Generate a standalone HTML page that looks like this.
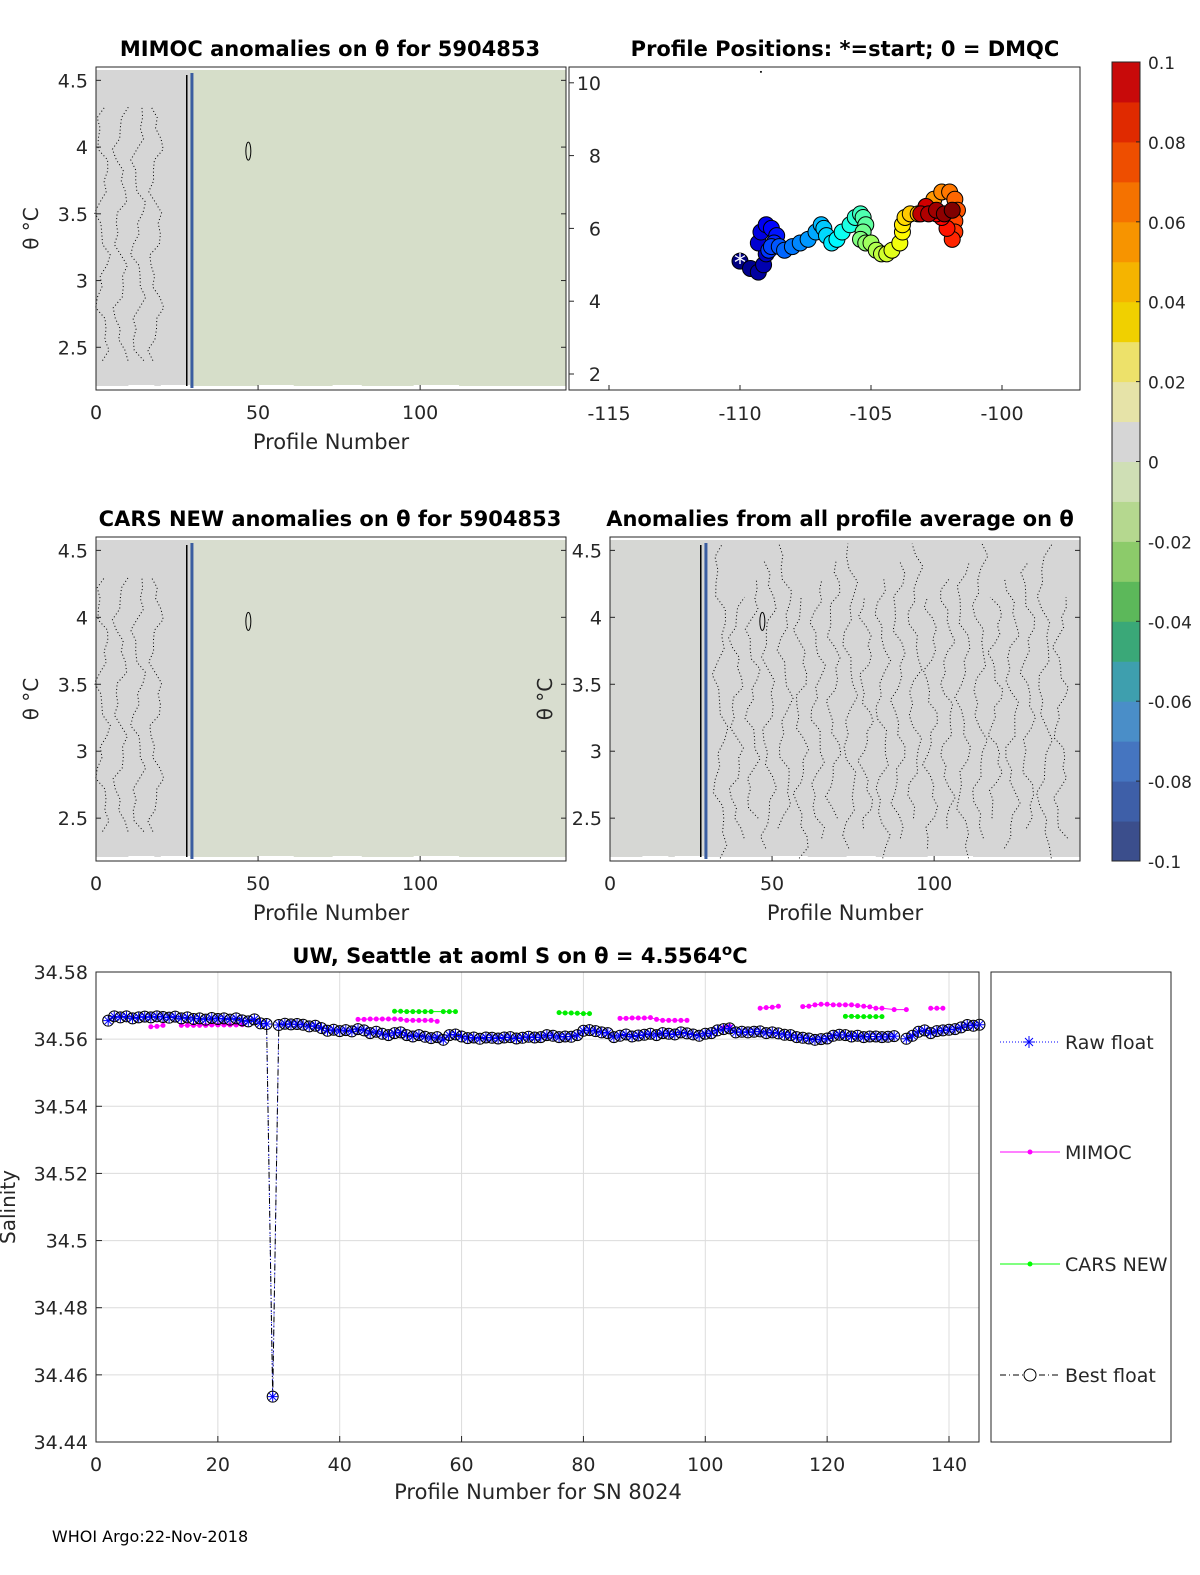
<!DOCTYPE html>
<html><head><meta charset="utf-8"><style>
html,body{margin:0;padding:0;background:#fff;}
svg{display:block;font-family:"DejaVu Sans","Liberation Sans",sans-serif;}
</style></head><body>
<svg id="root" width="1200" height="1575" viewBox="0 0 1200 1575" xmlns="http://www.w3.org/2000/svg"></svg>
<script>
// ---------- bottom chart data ----------
const bestProfiles=[];for(let p=2;p<=145;p++)bestProfiles.push(p);
const bestValues=[34.5655,34.5668,34.5665,34.5668,34.5662,34.5665,34.5667,34.5665,34.5668,34.5666,34.5664,34.5667,34.5662,34.5665,34.566,34.5662,34.5658,34.5663,34.566,34.5662,34.5658,34.5662,34.5656,34.5653,34.5659,34.5647,34.5645,34.4535,34.5642,34.5646,34.5644,34.5645,34.5643,34.5638,34.564,34.5633,34.5625,34.5628,34.5624,34.5627,34.5623,34.563,34.5626,34.5618,34.5622,34.5616,34.5612,34.5618,34.562,34.5612,34.5608,34.5612,34.5607,34.5603,34.5606,34.5598,34.5612,34.5614,34.5608,34.5603,34.5605,34.5601,34.5605,34.5604,34.5602,34.5605,34.5606,34.5602,34.5604,34.5607,34.5605,34.5606,34.5612,34.561,34.5606,34.5608,34.5607,34.5612,34.5625,34.5627,34.5624,34.562,34.5618,34.5606,34.561,34.5614,34.5608,34.5611,34.5613,34.5616,34.5612,34.5618,34.5616,34.5614,34.562,34.5617,34.5614,34.561,34.5616,34.5618,34.5626,34.563,34.5632,34.562,34.5622,34.562,34.5622,34.5623,34.5618,34.562,34.5617,34.5613,34.5612,34.5606,34.5604,34.5602,34.5598,34.56,34.5602,34.561,34.5613,34.5612,34.5608,34.561,34.5606,34.5608,34.5608,34.5606,34.5607,34.5609,null,34.5601,34.561,34.5622,34.5626,34.5618,34.5624,34.5626,34.5628,34.563,34.5635,34.5642,34.564,34.5643];
const mimocProfiles=[9,10,11,null,14,15,16,17,18,19,20,21,22,23,24,null,43,44,45,46,47,48,49,50,51,52,53,54,55,56,null,86,87,88,89,90,91,92,93,94,95,96,97,null,103,104,null,109,110,111,112,null,116,117,118,119,120,121,122,123,124,125,126,127,128,129,131,133,null,137,138,139];
const mimocValues=[34.5637,34.5638,34.5641,null,34.5641,34.5641,34.5641,34.5641,34.5641,34.5642,34.5642,34.5642,34.5642,34.5642,34.5643,null,34.5659,34.5659,34.5660,34.5660,34.5660,34.5660,34.5660,34.5659,34.5656,34.5656,34.5656,34.5656,34.5656,34.5653,null,34.5662,34.5662,34.5663,34.5663,34.5663,34.5664,34.5659,34.5656,34.5656,34.5656,34.5656,34.5656,null,34.5634,34.5638,null,34.5692,34.5694,34.5695,34.5698,null,34.5697,34.5698,34.5702,34.5704,34.5704,34.5702,34.5702,34.5702,34.5702,34.57,34.5698,34.5696,34.5692,34.5692,34.5688,34.5688,null,34.5692,34.5692,34.5692];
const carsProfiles=[49,50,51,52,53,54,55,57,58,59,null,76,77,78,79,80,81,null,123,124,125,126,127,128,129];
const carsValues=[34.5683,34.5683,34.5682,34.5682,34.5682,34.5682,34.5682,34.5682,34.5682,34.5682,null,34.5679,34.5678,34.5678,34.5677,34.5676,34.5676,null,34.5668,34.5668,34.5667,34.5667,34.5667,34.5667,34.5667];
const salTicks=[34.44,34.46,34.48,34.5,34.52,34.54,34.56,34.58];
const salTickLabels=["34.44","34.46","34.48","34.5","34.52","34.54","34.56","34.58"];
const profTicks=[0,20,40,60,80,100,120,140];
// ---------- map data ----------
const mapLon=[-110,-109.6,-109.3,-109.1,-109.0,-109.3,-109.2,-109.0,-108.8,-108.6,-108.7,-108.9,-108.8,-108.5,-108.3,-108.0,-107.7,-107.4,-107.1,-106.9,-106.8,-106.7,-106.5,-106.3,-106.1,-105.8,-105.6,-105.4,-105.3,-105.2,-105.3,-105.4,-105.2,-105.0,-104.8,-104.6,-104.4,-104.2,-103.9,-103.8,-103.8,-103.7,-103.5,-103.2,-102.9,-102.6,-102.3,-102.0,-101.8,-101.7,-101.8,-101.8,-101.9,-102.1,-102.3,-102.5,-102.7,-102.9,-103.1,-102.8,-102.5,-102.2,-101.9];
const mapLat=[5.1,4.9,4.8,5.0,5.3,5.6,5.9,6.1,6.0,5.8,5.6,5.4,5.5,5.5,5.4,5.5,5.6,5.7,5.9,6.1,6.0,5.8,5.6,5.7,5.9,6.1,6.3,6.4,6.3,6.1,5.9,5.7,5.6,5.6,5.4,5.3,5.3,5.4,5.6,5.9,6.1,6.3,6.4,6.4,6.6,6.8,7.0,7.0,6.8,6.5,6.2,5.9,5.7,6.0,6.3,6.4,6.5,6.6,6.4,6.4,6.5,6.4,6.5];
const lonTicks=[-115,-110,-105,-100];
const latTicks=[2,4,6,8,10];
const cbTicks=[-0.1,-0.08,-0.06,-0.04,-0.02,0,0.02,0.04,0.06,0.08,0.1];
const cbTickLabels=["-0.1","-0.08","-0.06","-0.04","-0.02","0","0.02","0.04","0.06","0.08","0.1"];
const thetaTicks=[2.5,3,3.5,4,4.5];
const smallProfTicks=[0,50,100];

const NS="http://www.w3.org/2000/svg";
const root=document.getElementById('root');
function mk(tag,attrs,parent,name,inter){const e=document.createElementNS(NS,tag);for(const k in attrs)e.setAttribute(k,attrs[k]);


(parent||root).appendChild(e);return e;}
function txt(s,x,y,size,anchor,parent,name,extra){const t=mk('text',Object.assign({x:x,y:y,'font-size':size,'text-anchor':anchor||'middle',fill:'#262626'},extra||{}),parent,name,false);t.textContent=s;return t;}
function jet(v){v=Math.max(0,Math.min(1,v));const r=Math.max(0,Math.min(1,1.5-Math.abs(4*v-3))),g=Math.max(0,Math.min(1,1.5-Math.abs(4*v-2))),b=Math.max(0,Math.min(1,1.5-Math.abs(4*v-1)));return `rgb(${r*255|0},${g*255|0},${b*255|0})`;}

function contourPanel(x0,y0,x1,y1,title,bgLeft,bgRight,name,dense,titleX){
  const g=mk('g',{},root,name,false);
  const sx=p=>x0+(p/145)*(x1-x0);
  const sy=t=>y0+(4.6-t)/(4.6-2.18)*(y1-y0);
  mk('rect',{x:x0,y:y0,width:x1-x0,height:y1-y0,fill:'#fff'},g,'plot-area',false);
  mk('rect',{x:x0,y:y0+3,width:sx(29)-x0,height:y1-y0-7,fill:bgLeft},g,'anomaly-field-left',false);
  mk('rect',{x:sx(29),y:y0+3,width:x1-sx(29),height:y1-y0-7,fill:bgRight},g,'anomaly-field-right',false);
  [[10,18],[20,29],[50,61],[73,82],[98,112]].forEach(a=>mk('rect',{x:sx(a[0]),y:y1-5,width:sx(a[1])-sx(a[0]),height:5,fill:'#fff'},g,'data-gap',false));
  let d='';
  const n=dense?22:4;
  for(let i=0;i<n;i++){
    const base=dense?34+i*5:2+i*5.5;
    let pts=[];
    const t0=dense?2.2+0.3*((i*7)%5)/4:2.4, t1=dense?4.55-0.4*((i*3)%4)/3:4.3;
    const K=24;
    for(let k=0;k<=K;k++){const t=t0+(t1-t0)*k/K;const p=base+1.6*Math.sin(k*0.8+i*1.3)+1.0*Math.sin(k*2.1+i);pts.push(sx(p).toFixed(1)+','+sy(t).toFixed(1));}
    d+='M'+pts.join('L');
  }
  mk('path',{d:d,fill:'none',stroke:'#000','stroke-width':1,'stroke-dasharray':'1,2.5'},g,'contour-lines',false);
  mk('ellipse',{cx:sx(47),cy:sy(3.97),rx:2.5,ry:9,fill:'none',stroke:'#000','stroke-width':1},g,'contour-ellipse',false);
  mk('line',{x1:sx(28),y1:y0+8,x2:sx(28),y2:y1-4,stroke:'#000','stroke-width':1.5},g,'vertical-line-28',false);
  mk('line',{x1:sx(29.6),y1:y0+6,x2:sx(29.6),y2:y1-2,stroke:'#3a5da0','stroke-width':3},g,'vertical-line-29',false);
  mk('rect',{x:x0,y:y0,width:x1-x0,height:y1-y0,fill:'none',stroke:'#262626','stroke-width':1},g,'axes-box',false);
  thetaTicks.forEach(t=>{mk('line',{x1:x0,y1:sy(t),x2:x0+5,y2:sy(t),stroke:'#262626'},g,'y-tick',false);mk('line',{x1:x1,y1:sy(t),x2:x1-5,y2:sy(t),stroke:'#262626'},g,'y-tick',false);
    txt(String(t),x0-8,sy(t)+7,19,'end',g,'y-tick-label');});
  smallProfTicks.forEach(p=>{mk('line',{x1:sx(p),y1:y1,x2:sx(p),y2:y1-5,stroke:'#262626'},g,'x-tick',false);txt(String(p),sx(p),y1+29,19,'middle',g,'x-tick-label');});
  txt('Profile Number',(x0+x1)/2,y1+59,21,'middle',g,'x-axis-title');
  txt('θ °C',0,0,20,'middle',g,'y-axis-title',{transform:`translate(${x0-58},${(y0+y1)/2}) rotate(-90)`});
  txt(title,titleX||(x0+x1)/2,y0-11,21,'middle',g,'panel-title',{'font-weight':'bold',fill:'#000'});
  return g;
}
contourPanel(96,67,566,390,'MIMOC anomalies on θ  for 5904853','#d6d6d6','#d6dec9','mimoc-anomaly-panel',false,330);
contourPanel(96,537,566,861,'CARS NEW anomalies on θ for 5904853','#d6d6d6','#d8ddcf','cars-anomaly-panel',false,330);
contourPanel(610,537,1080,861,'Anomalies from all profile average on θ','#d6d7d4','#d6d6d6','profile-average-anomaly-panel',true,840);

(function(){
  const g=mk('g',{},root,'profile-positions-panel',false);
  const x0=569,x1=1080,y0=67,y1=390;
  const sx=l=>609+(l+115)*26.2, sy=a=>374-(a-2)*36.4;
  mk('rect',{x:x0,y:y0,width:x1-x0,height:y1-y0,fill:'#fff',stroke:'#262626'},g,'axes-box',false);
  lonTicks.forEach(l=>{mk('line',{x1:sx(l),y1:y1,x2:sx(l),y2:y1-5,stroke:'#262626'},g,'x-tick',false);txt(String(l),sx(l),y1+30,19,'middle',g,'x-tick-label');});
  latTicks.forEach(a=>{mk('line',{x1:x0,y1:sy(a),x2:x0+5,y2:sy(a),stroke:'#262626'},g,'y-tick',false);txt(String(a),x0+32,sy(a)+7,19,'end',g,'y-tick-label');});
  const n=mapLon.length;
  for(let i=0;i<n;i++){mk('circle',{cx:sx(mapLon[i]),cy:sy(mapLat[i]),r:8,fill:jet(i/(n-1)),stroke:'#000','stroke-width':1},g,'profile-position',false);}
  txt('*',sx(mapLon[0]),sy(mapLat[0])+10,24,'middle',g,'start-marker',{fill:'#fff'});
  mk('circle',{cx:sx(-109.2),cy:sy(10.3),r:1,fill:'#000'},g,'outlier-position',false);
  txt('Profile Positions: *=start; 0 = DMQC',845,56,21,'middle',g,'panel-title',{'font-weight':'bold',fill:'#000'});
})();

(function(){
  const g=mk('g',{},root,'colorbar',false);
  const x0=1112,x1=1140,y0=62,y1=861;
  const sy=v=>y0+(0.1-v)/0.2*(y1-y0);
  const steps=[['#3b4e8c',-0.1],['#3e5fa8',-0.09],['#4575c0',-0.08],['#4a8ec8',-0.07],['#3e9fae',-0.06],['#3aa878',-0.05],['#5cb85a',-0.04],['#8ccb6a',-0.03],['#b5d88f',-0.02],['#cfdfb5',-0.01],['#d6d6d6',0],['#e6e3a8',0.01],['#ede16a',0.02],['#f0d000',0.03],['#f5b400',0.04],['#f79400',0.05],['#f57200',0.06],['#ee4e00',0.07],['#e02a00',0.08],['#c80a0a',0.09]];
  steps.forEach(s=>mk('rect',{x:x0,y:sy(s[1]+0.01),width:x1-x0,height:(y1-y0)/20+0.5,fill:s[0]},g,'colorbar-segment',false));
  mk('rect',{x:x0,y:y0,width:x1-x0,height:y1-y0,fill:'none',stroke:'#262626'},g,'colorbar-box',false);
  cbTicks.forEach((v,i)=>{mk('line',{x1:x1,y1:sy(v),x2:x1-4,y2:sy(v),stroke:'#262626'},g,'colorbar-tick',false);txt(cbTickLabels[i],x1+8,sy(v)+7,17,'start',g,'colorbar-tick-label');});
})();

(function(){
  const g=mk('g',{},root,'salinity-chart',false);
  const x0=96,x1=979,y0=972,y1=1442;
  const sx=p=>x0+p*(949-96)/140, sy=v=>y0+(34.58-v)*(y1-y0)/0.14;
  mk('rect',{x:x0,y:y0,width:x1-x0,height:y1-y0,fill:'#fff'},g,'plot-area',false);
  profTicks.forEach(p=>{if(p>0)mk('line',{x1:sx(p),y1:y0,x2:sx(p),y2:y1,stroke:'#dcdcdc'},g,'x-grid-line',false);});
  salTicks.forEach(v=>mk('line',{x1:x0,y1:sy(v),x2:x1,y2:sy(v),stroke:'#dcdcdc'},g,'y-grid-line',false));
  function pathOf(P,V){let d='',pen=false;for(let i=0;i<P.length;i++){if(P[i]==null||V[i]==null){pen=false;continue;}d+=(pen?'L':'M')+sx(P[i]).toFixed(1)+','+sy(V[i]).toFixed(1);pen=true;}return d;}
  mk('path',{d:pathOf(mimocProfiles,mimocValues),fill:'none',stroke:'#ff00ff','stroke-width':1},g,'mimoc-line',false);
  mimocProfiles.forEach((p,i)=>{if(p!=null)mk('circle',{cx:sx(p),cy:sy(mimocValues[i]),r:2.5,fill:'#ff00ff'},g,'mimoc-point',false);});
  mk('path',{d:pathOf(carsProfiles,carsValues),fill:'none',stroke:'#00ff00','stroke-width':1},g,'cars-line',false);
  carsProfiles.forEach((p,i)=>{if(p!=null)mk('circle',{cx:sx(p),cy:sy(carsValues[i]),r:2.5,fill:'#00ee00'},g,'cars-point',false);});
  mk('path',{d:pathOf(bestProfiles,bestValues),fill:'none',stroke:'#0000ff','stroke-width':1,'stroke-dasharray':'1,2'},g,'raw-float-line',false);
  mk('path',{d:pathOf(bestProfiles,bestValues),fill:'none',stroke:'#000','stroke-width':1,'stroke-dasharray':'6,3,1,3'},g,'best-float-line',false);
  bestProfiles.forEach((p,i)=>{const v=bestValues[i];if(v==null)return;const cx=sx(p),cy=sy(v);
    mk('path',{d:`M${cx-5},${cy}h10M${cx},${cy-5}v10M${cx-3.5},${cy-3.5}l7,7M${cx-3.5},${cy+3.5}l7,-7`,stroke:'#0000ff','stroke-width':1},g,'raw-float-point',false);
    mk('circle',{cx:cx,cy:cy,r:5.5,fill:'none',stroke:'#000','stroke-width':1},g,'best-float-point',false);});
  mk('rect',{x:x0,y:y0,width:x1-x0,height:y1-y0,fill:'none',stroke:'#262626'},g,'axes-box',false);
  salTicks.forEach((v,i)=>{mk('line',{x1:x0,y1:sy(v),x2:x0+6,y2:sy(v),stroke:'#262626'},g,'y-tick',false);txt(salTickLabels[i],x0-8,sy(v)+7,19,'end',g,'y-tick-label');});
  profTicks.forEach(p=>{mk('line',{x1:sx(p),y1:y1,x2:sx(p),y2:y1-6,stroke:'#262626'},g,'x-tick',false);txt(String(p),sx(p),y1+29,19,'middle',g,'x-tick-label');});
  txt('Profile Number for SN 8024',538,1499,21,'middle',g,'x-axis-title');
  txt('Salinity',0,0,20,'middle',g,'y-axis-title',{transform:`translate(15,1207) rotate(-90)`});
  const t=txt('UW, Seattle at aoml S on θ = 4.5564',520,963,21,'middle',g,'chart-title',{'font-weight':'bold',fill:'#000'});
  const ts=document.createElementNS(NS,'tspan');ts.setAttribute('dy','-8');ts.setAttribute('font-size','15');ts.textContent='o';t.appendChild(ts);
  const ts2=document.createElementNS(NS,'tspan');ts2.setAttribute('dy','8');ts2.textContent='C';t.appendChild(ts2);
  const lg=mk('g',{},root,'legend',false);
  mk('rect',{x:991,y:972,width:180,height:470,fill:'#fff',stroke:'#262626'},lg,'legend-box',false);
  const items=[['Raw float',1042],['MIMOC',1152],['CARS NEW',1264],['Best float',1375]];
  items.forEach((it,i)=>{const y=it[1],e=mk('g',{},lg,'legend-entry',true);
    if(i==0){mk('line',{x1:1000,y1:y,x2:1060,y2:y,stroke:'#0000ff','stroke-dasharray':'1,2'},e,'legend-line',false);mk('path',{d:`M1023,${y}h12M1029,${y-6}v12M1025,${y-4}l8,8M1025,${y+4}l8,-8`,stroke:'#0000ff'},e,'legend-marker',false);}
    if(i==1||i==2){const c=i==1?'#ff00ff':'#00ff00';mk('line',{x1:1000,y1:y,x2:1060,y2:y,stroke:c},e,'legend-line',false);mk('circle',{cx:1030,cy:y,r:2.5,fill:c},e,'legend-marker',false);}
    if(i==3){mk('line',{x1:1000,y1:y,x2:1060,y2:y,stroke:'#000','stroke-dasharray':'6,3,1,3'},e,'legend-line',false);mk('circle',{cx:1030,cy:y,r:6,fill:'#fff',stroke:'#000'},e,'legend-marker',false);}
    txt(it[0],1065,y+7,19,'start',e,'legend-label');});
})();
txt('WHOI Argo:22-Nov-2018',150,1542,16,'middle',root,'footer-note',{fill:'#000'});
</script>
</body></html>
